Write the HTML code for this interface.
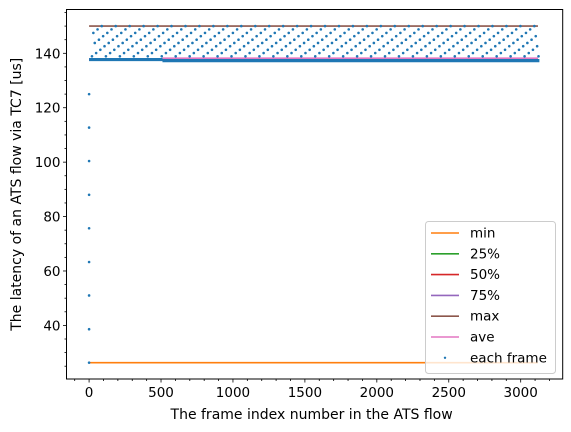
<!DOCTYPE html>
<html><head><meta charset="utf-8">
<style>
body{margin:0;background:#fff;}
svg{display:block;font-family:"DejaVu Sans","Liberation Sans",sans-serif;}
</style></head>
<body>
<svg id="chart" width="571" height="432"></svg>
<script>
// ---- data ----
const statNames = ["min","25%","50%","75%","max","ave"];
const statValues = [26.3, 137.5, 137.6, 137.6, 150.0, 138.0];
const statColors = ["#ff7f0e","#2ca02c","#d62728","#9467bd","#8c564b","#e377c2"];
const frameCount = 3130;
const startupValues = [26.3, 38.6, 51.0, 63.3, 75.7, 88.0, 100.4, 112.7, 125.0];
const baseValues = [137.7, 137.3];     // dense baseline before / after split
const baseSplitFrame = 510;
const cycleLevels = [138.9, 147.5, 143.8, 140.1, 148.8, 145.0, 141.3, 150.0, 146.3, 142.6]; // spike levels in frame order
const cycleStep = 9.7;                 // frames between spikes
const xTicks = [0,500,1000,1500,2000,2500,3000];
const yTicks = [40,60,80,100,120,140];

// ---- scales ----
const L=66.5,R=562.7,T=9.5,B=379;
const xMin=-157,xMax=3292,yMin=20.3,yMax=156.1;
const xs=v=>L+(v-xMin)/(xMax-xMin)*(R-L);
const ys=v=>B-(v-yMin)/(yMax-yMin)*(B-T);
const svg=document.getElementById('chart');
const NS="http://www.w3.org/2000/svg";
function mk(tag,attrs,parent){const e=document.createElementNS(NS,tag);for(const k in attrs)e.setAttribute(k,attrs[k]);(parent||svg).appendChild(e);return e;}

// stat lines
statValues.forEach((v,i)=>{
  const ln=mk('line',{x1:xs(0),x2:xs(frameCount-10),y1:ys(v),y2:ys(v),stroke:statColors[i],'stroke-width':1.6});
  
  
});

// baseline dense points
const base1=mk('line',{x1:xs(0),x2:xs(baseSplitFrame),y1:ys(baseValues[0]),y2:ys(baseValues[0]),stroke:'#1f77b4','stroke-width':3.2});


const base2=mk('line',{x1:xs(baseSplitFrame),x2:xs(frameCount),y1:ys(baseValues[1]),y2:ys(baseValues[1]),stroke:'#1f77b4','stroke-width':3.2});


const aveTop=mk('line',{x1:xs(baseSplitFrame),x2:xs(frameCount-10),y1:ys(statValues[5])-0.8,y2:ys(statValues[5])-0.8,stroke:statColors[5],'stroke-width':1.2});



// each frame points
const g=mk('g',{fill:'#1f77b4'});


startupValues.forEach(v=>{
  const c=mk('circle',{cx:xs(0),cy:ys(v),r:1.3},g);
  
  
});
let k=0;
for(let f=20;f<frameCount;f+=cycleStep,k++){
  const c=mk('circle',{cx:xs(f),cy:ys(cycleLevels[k%cycleLevels.length]),r:1.3},g);
  
  
}

// axes frame
const fr=mk('rect',{x:L,y:T,width:R-L,height:B-T,fill:'none',stroke:'#000','stroke-width':1});



// x ticks
for(let v=-100;v<=3200;v+=100){
  const major=xTicks.includes(v);
  const t=mk('line',{x1:xs(v),x2:xs(v),y1:B,y2:B+(major?3.5:2),stroke:'#000','stroke-width':0.8});
  
  
}
xTicks.forEach(v=>{
  const t=mk('text',{x:xs(v),y:B+18,'font-size':13.5,'text-anchor':'middle'});
  t.textContent=v;
  
  
});
// y ticks
for(let v=25;v<=155;v+=5){
  const major=yTicks.includes(v);
  const t=mk('line',{x1:L,x2:L-(major?3.5:2),y1:ys(v),y2:ys(v),stroke:'#000','stroke-width':0.8});
  
  
}
yTicks.forEach(v=>{
  const t=mk('text',{x:L-6,y:ys(v)+5,'font-size':13.5,'text-anchor':'end'});
  t.textContent=v;
  
  
});
// axis titles
const xt=mk('text',{x:(L+R)/2-3,y:419,'font-size':14,'text-anchor':'middle'});
xt.textContent='The frame index number in the ATS flow';


const yt=mk('text',{x:0,y:0,'font-size':14,'text-anchor':'middle',transform:`translate(21,${(T+B)/2}) rotate(-90)`});
yt.textContent='The latency of an ATS flow via TC7 [us]';



// legend
const lg=mk('g',{});


mk('rect',{x:425.5,y:221.5,width:130,height:152,rx:3,fill:'#fff','fill-opacity':0.8,stroke:'#ccc'},lg);
const labels=statNames.concat(['each frame']);
labels.forEach((n,i)=>{
  const y=233+i*20.8;
  const e=mk('g',{},lg);
  
  
  if(i<6) mk('line',{x1:431,x2:459,y1:y,y2:y,stroke:statColors[i],'stroke-width':1.6},e);
  else mk('circle',{cx:445,cy:y,r:1.2,fill:'#1f77b4'},e);
  const t=mk('text',{x:470,y:y+4.5,'font-size':13.5},e);
  t.textContent=n;
});
</script>
</body></html>
